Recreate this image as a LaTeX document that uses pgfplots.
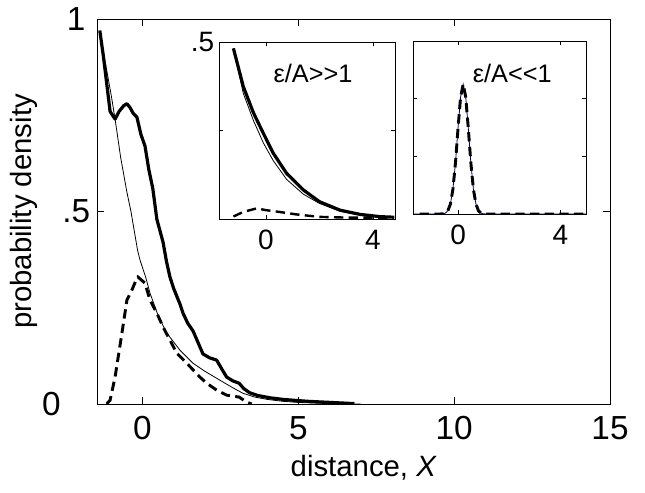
\documentclass[border=0pt]{standalone}
\usepackage{pgfplots}
\pgfplotsset{compat=1.18}
\usepackage{fontspec}
\setmainfont{Liberation Sans}

\begin{document}
\begin{tikzpicture}
\useasboundingbox (0,0) rectangle (483.75pt,369pt);
\pgfplotsset{
  every axis/.append style={
    scale only axis,
    axis line style={line width=0.7pt},
    tick align=inside,
    tick style={line width=0.5pt, black},
    major tick length=5pt,
    axis background/.style={fill=white},
    clip=true,
  },
  thickline/.style={black, line width=2.4pt, line join=round},
  thinline/.style={black, line width=0.6pt},
  dashline/.style={black, line width=2.2pt, dash pattern=on 7pt off 4pt},
}
% main axis
\begin{axis}[
    at={(72.75pt,66pt)}, anchor=south west,
    width=384.75pt, height=288.75pt,
    xmin=-1.46, xmax=15, ymin=0, ymax=1,
    xtick={0,5,10,15}, xticklabels={0,5,10,15},
    ytick={0,0.5,1}, yticklabels={0\kern22pt,.5,1\kern3.5pt},
    tick label style={font=\fontsize{25}{27}\selectfont},
    xticklabel style={yshift=-6pt},
    yticklabel style={inner sep=0pt, xshift=-5pt},
    xlabel={distance,\ \textit{X}},
    ylabel={probability density},
    label style={font=\fontsize{22}{24}\selectfont},
    xlabel style={at={(axis description cs:0.52,-0.166)}, anchor=center},
    ylabel style={at={(axis description cs:-0.143,0.5)}, anchor=center},
  ]
  % thin curve
  \addplot[thinline] coordinates {
    (-1.37,0.97) (-1.2,0.89) (-1.0,0.80) (-0.88,0.74) (-0.7,0.64) (-0.5,0.55)
    (-0.37,0.50) (-0.16,0.40) (-0.08,0.374) (0.1,0.33) (0.24,0.288) (0.5,0.23)
    (0.78,0.184) (1.2,0.14) (1.62,0.106) (2.0,0.085) (2.48,0.062) (2.9,0.042)
    (3.22,0.028) (3.6,0.018) (4.0,0.012) (4.5,0.007) (5.0,0.004) (6.0,0.001) (7.0,0)
  };
  % thick curve
  \addplot[thickline] coordinates {
    (-1.37,0.97) (-1.25,0.90) (-1.1,0.80) (-1.04,0.76) (-0.88,0.74) (-0.75,0.76)
    (-0.6,0.775) (-0.5,0.78) (-0.4,0.77) (-0.3,0.755) (-0.18,0.745) (-0.05,0.70)
    (0.08,0.67) (0.2,0.61) (0.33,0.56) (0.46,0.48) (0.56,0.45) (0.66,0.42)
    (0.77,0.37) (0.88,0.33) (1.0,0.30) (1.1,0.28) (1.2,0.26) (1.3,0.236)
    (1.45,0.21) (1.62,0.19) (1.78,0.16) (1.94,0.13) (2.15,0.12) (2.38,0.114)
    (2.55,0.09) (2.7,0.07) (2.9,0.06) (3.1,0.054) (3.25,0.04) (3.44,0.029)
    (3.7,0.022) (4.1,0.016) (4.5,0.012) (4.8,0.01) (5.3,0.007) (5.8,0.005)
    (6.3,0.003) (6.8,0.001)
  };
  % dashed curve
  \addplot[dashline] coordinates {
    (-1.15,0) (-1.04,0.01) (-0.88,0.07) (-0.66,0.184) (-0.5,0.27) (-0.34,0.296)
    (-0.18,0.327) (-0.15,0.33) (0.08,0.314) (0.24,0.27) (0.46,0.236) (0.66,0.2)
    (0.88,0.166) (1.1,0.132) (1.42,0.106) (1.84,0.07) (2.06,0.054) (2.38,0.036)
    (2.7,0.023) (3.1,0.018) (3.34,0.005) (3.5,0)
  };
\end{axis}
% inset 1
\begin{axis}[
    at={(164.25pt,204.75pt)}, anchor=south west,
    width=132pt, height=132.75pt,
    xmin=-1.76, xmax=4.83, ymin=0, ymax=0.5,
    xtick={0,4}, xticklabels={0,4},
    ytick={0,0.25,0.5}, yticklabels={,,.5},
    major tick length=3pt,
    tick label style={font=\fontsize{21}{23}\selectfont},
    xticklabel style={yshift=-5pt},
  ]
  \addplot[thinline] coordinates {
    (-1.22,0.482) (-0.85,0.355) (-0.47,0.278) (-0.1,0.215) (0.27,0.165) (0.77,0.112)
    (1.4,0.07) (2.0,0.044) (2.77,0.022) (3.52,0.011) (4.27,0.006) (4.8,0.004)
  };
  \addplot[thickline] coordinates {
    (-1.22,0.482) (-0.85,0.374) (-0.47,0.30) (-0.1,0.242) (0.27,0.186) (0.77,0.129)
    (1.4,0.082) (2.0,0.049) (2.77,0.025) (3.52,0.013) (4.27,0.0066) (4.8,0.005)
  };
  \addplot[dashline, line width=1.8pt] coordinates {
    (-1.22,0.007) (-0.85,0.02) (-0.35,0.03) (0,0.025) (0.5,0.02) (1.13,0.013)
    (2.0,0.006) (3.0,0.004) (4.8,0.004)
  };
  \node[font=\fontsize{19}{21}\selectfont] at (axis cs:1.76,0.41) {ε/A>\kern0pt>1};
\end{axis}
% inset 2
\begin{axis}[
    at={(309.75pt,208.5pt)}, anchor=south west,
    width=129.75pt, height=129.75pt,
    xmin=-1.76, xmax=5.0, ymin=0, ymax=3,
    xtick={0,4}, xticklabels={0,4},
    ytick={0,1,2,3}, yticklabels={},
    major tick length=3pt,
    tick label style={font=\fontsize{21}{23}\selectfont},
    xticklabel style={yshift=-5pt},
  ]
  \addplot[line width=0.6pt, color=blue!40!black] coordinates {
    (-1.76,0) (-0.7,0) (-0.6,0.003) (-0.5,0.014) (-0.4,0.055) (-0.3,0.17)
    (-0.2,0.43) (-0.1,0.89) (0,1.49) (0.1,2.03) (0.2,2.25) (0.3,2.03) (0.4,1.49)
    (0.5,0.89) (0.6,0.43) (0.7,0.17) (0.8,0.055) (0.9,0.014) (1.0,0.003) (1.1,0) (5,0)
  };
  \addplot[dashline] coordinates {
    (-1.5,0) (-0.7,0) (-0.6,0.003) (-0.5,0.014) (-0.4,0.055) (-0.3,0.17)
    (-0.2,0.43) (-0.1,0.89) (0,1.49) (0.1,2.03) (0.2,2.25) (0.3,2.03) (0.4,1.49)
    (0.5,0.89) (0.6,0.43) (0.7,0.17) (0.8,0.055) (0.9,0.014) (1.0,0.003) (1.1,0) (5,0)
  };
  \node[font=\fontsize{19}{21}\selectfont] at (axis cs:2.12,2.44) {ε/A<\kern0pt<1};
\end{axis}
\end{tikzpicture}
\end{document}
